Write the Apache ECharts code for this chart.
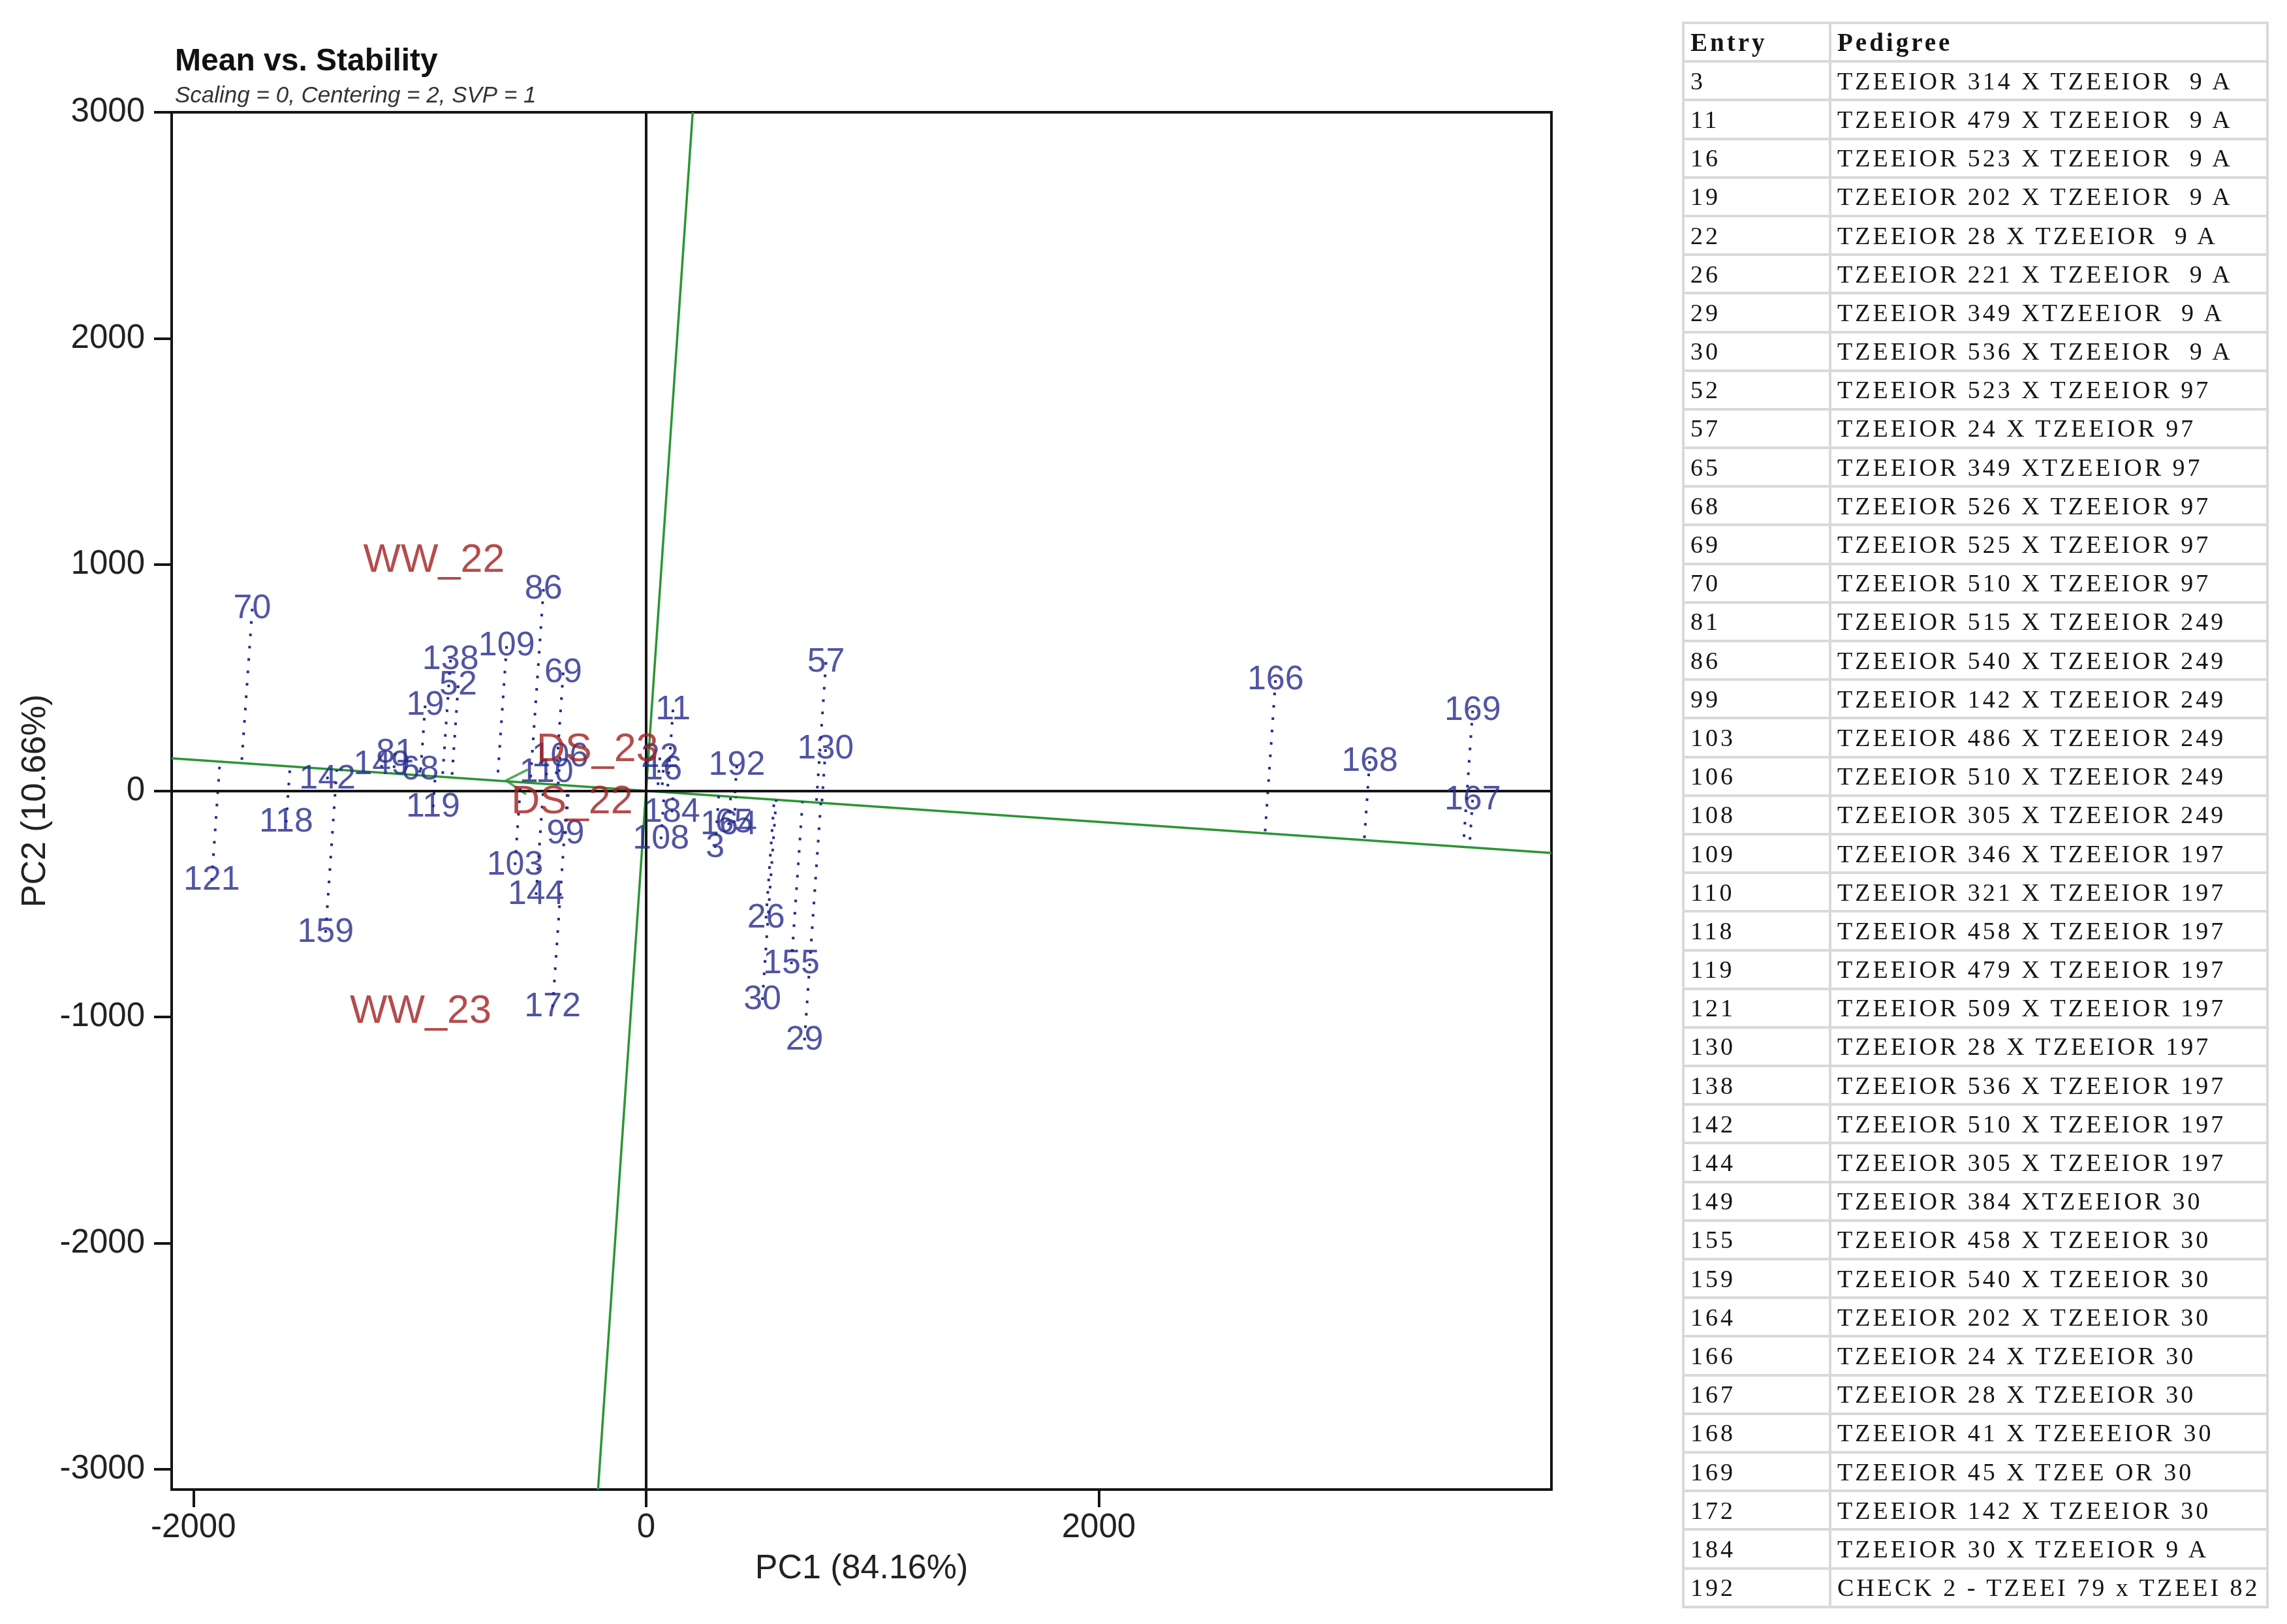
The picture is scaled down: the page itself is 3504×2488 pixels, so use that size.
<!DOCTYPE html>
<html>
<head>
<meta charset="utf-8">
<script src="https://cdn.jsdelivr.net/npm/echarts@6/dist/echarts.min.js"></script>
<style>
html, body { margin: 0; padding: 0; background: #fff; }
#page { position: relative; width: 3504px; height: 2488px; }
#chart { position: absolute; left: 0; top: 0; width: 3504px; height: 2488px; }
#pedigree {
    position: absolute; left: 2577px; top: 33px; width: 895px;
    border-collapse: collapse; table-layout: fixed;
    font-family: 'Liberation Serif', serif; font-size: 38px; color: #141414;
}
#pedigree tr { height: 59.2px; }
#pedigree td {
    border: 4px solid #d8d9dc; padding: 0 0 0 9px;
    white-space: pre; letter-spacing: 4px; overflow: hidden; vertical-align: middle;
}
#pedigree tr.head td { font-weight: bold; font-size: 39px; letter-spacing: 4px; }
</style>
</head>
<body>
<div id="page">
  <div id="chart"></div>
  <table id="pedigree"><colgroup><col style="width:225px"><col style="width:670px"></colgroup><tbody id="rows"></tbody></table>
</div>
<script>
// genotype scores (PC1, PC2)
var genoNames = ['3','11','16','19','22','26','29','30','52','57','65','68','69','70','81','86','99','103','106','108',
                 '109','110','118','119','121','130','138','142','144','149','155','159','164','166','167','168','169','172','184','192'];
var genoX = [305, 119, 76, -976, 61, 530, 700, 514, -830, 795, 389, -999, -366, -1740, -1109, -453, -356, -579, -380, 66,
             -616, -440, -1590, -941, -1919, 793, -864, -1408, -486, -1168, 642, -1416, 365, 2781, 3652, 3197, 3652, -413, 114, 401];
var genoY = [-252, 359, 92, 377, 147, -564, -1103, -924, 466, 569, -142, 92, 523, 805, 167, 892, -190, -328, 150, -214,
             640, 80, -140, -72, -397, 184, 579, 51, -460, 114, -766, -627, -151, 489, -40, 131, 355, -956, -95, 111];

// environment scores
var envNames = ['WW_22', 'WW_23', 'DS_22', 'DS_23'];
var envX = [-937, -996, -327, -215];
var envY = [1018, -978, -50, 180];

var xTicks = [-2000, 0, 2000];
var yTicks = [-3000, -2000, -1000, 0, 1000, 2000, 3000];

var entries = ['3','11','16','19','22','26','29','30','52','57','65','68','69','70','81','86','99','103','106','108',
               '109','110','118','119','121','130','138','142','144','149','155','159','164','166','167','168','169','172','184','192'];
var pedigrees = [
    'TZEEIOR 314 X TZEEIOR  9 A', 'TZEEIOR 479 X TZEEIOR  9 A', 'TZEEIOR 523 X TZEEIOR  9 A', 'TZEEIOR 202 X TZEEIOR  9 A',
    'TZEEIOR 28 X TZEEIOR  9 A', 'TZEEIOR 221 X TZEEIOR  9 A', 'TZEEIOR 349 XTZEEIOR  9 A', 'TZEEIOR 536 X TZEEIOR  9 A',
    'TZEEIOR 523 X TZEEIOR 97', 'TZEEIOR 24 X TZEEIOR 97', 'TZEEIOR 349 XTZEEIOR 97', 'TZEEIOR 526 X TZEEIOR 97',
    'TZEEIOR 525 X TZEEIOR 97', 'TZEEIOR 510 X TZEEIOR 97', 'TZEEIOR 515 X TZEEIOR 249', 'TZEEIOR 540 X TZEEIOR 249',
    'TZEEIOR 142 X TZEEIOR 249', 'TZEEIOR 486 X TZEEIOR 249', 'TZEEIOR 510 X TZEEIOR 249', 'TZEEIOR 305 X TZEEIOR 249',
    'TZEEIOR 346 X TZEEIOR 197', 'TZEEIOR 321 X TZEEIOR 197', 'TZEEIOR 458 X TZEEIOR 197', 'TZEEIOR 479 X TZEEIOR 197',
    'TZEEIOR 509 X TZEEIOR 197', 'TZEEIOR 28 X TZEEIOR 197', 'TZEEIOR 536 X TZEEIOR 197', 'TZEEIOR 510 X TZEEIOR 197',
    'TZEEIOR 305 X TZEEIOR 197', 'TZEEIOR 384 XTZEEIOR 30', 'TZEEIOR 458 X TZEEIOR 30', 'TZEEIOR 540 X TZEEIOR 30',
    'TZEEIOR 202 X TZEEIOR 30', 'TZEEIOR 24 X TZEEIOR 30', 'TZEEIOR 28 X TZEEIOR 30', 'TZEEIOR 41 X TZEEEIOR 30',
    'TZEEIOR 45 X TZEE OR 30', 'TZEEIOR 142 X TZEEIOR 30', 'TZEEIOR 30 X TZEEIOR 9 A', 'CHECK 2 - TZEEI 79 x TZEEI 82'
];

var xMin = -2096, xMax = 4000, yMin = -3089, yMax = 3000;
var blue = '#262a8c', red = '#a0201f', green = '#2a9634', ink = '#141414';
var font = 'Liberation Sans';

// table
var html = '<tr class="head"><td>Entry</td><td>Pedigree</td></tr>';
for (var i = 0; i < entries.length; i++) {
    html += '<tr><td>' + entries[i] + '</td><td>' + pedigrees[i] + '</td></tr>';
}
document.getElementById('rows').innerHTML = html;

// average environment and the AEC axes
var ax = 0, ay = 0;
for (var i = 0; i < envX.length; i++) { ax += envX[i]; ay += envY[i]; }
ax = ax / envX.length; ay = ay / envY.length;
var slope = ay / ax;
var abscissa = [[xMin, xMin * slope], [xMax, xMax * slope]];
var ordinate = [[-yMax * slope, yMax], [-yMin * slope, yMin]];
var arrowAngle = Math.atan2(ay, ax) * 180 / Math.PI - 180;

// projections of genotypes on the abscissa
var aa = ax * ax + ay * ay;
var projLines = [];
var genoPts = [];
for (var i = 0; i < genoNames.length; i++) {
    var t = (genoX[i] * ax + genoY[i] * ay) / aa;
    projLines.push({coords: [[genoX[i], genoY[i]], [t * ax, t * ay]]});
    genoPts.push({name: genoNames[i], value: [genoX[i], genoY[i]]});
}
var envPts = [];
for (var i = 0; i < envNames.length; i++) {
    envPts.push({name: envNames[i], value: [envX[i], envY[i]]});
}

var plain = function (v) { return String(v); };

var chart = echarts.init(document.getElementById('chart'), null, {renderer: 'canvas'});
var option = {
    animation: false,
    backgroundColor: '#fff',
    title: [
        {text: 'Mean vs. Stability', left: 263, top: 66,
         textStyle: {fontSize: 48, fontWeight: 'bold', color: '#111', fontFamily: font}},
        {text: 'Scaling = 0, Centering = 2, SVP = 1', left: 263, top: 125,
         textStyle: {fontSize: 35, fontWeight: 'normal', fontStyle: 'italic', color: '#333', fontFamily: font}}
    ],
    grid: {left: 263, top: 172, width: 2114, height: 2110, show: true,
           borderColor: ink, borderWidth: 4, backgroundColor: 'transparent'},
    xAxis: {
        type: 'value', min: xMin, max: xMax,
        name: 'PC1 (84.16%)', nameLocation: 'middle', nameGap: 96,
        nameTextStyle: {fontSize: 52, color: '#222', fontFamily: font},
        splitLine: {show: false},
        axisLine: {show: false, onZero: false},
        axisTick: {show: true, length: 27, lineStyle: {color: ink, width: 4}, customValues: xTicks},
        axisLabel: {fontSize: 51, color: '#222', fontFamily: font, margin: 33, customValues: xTicks, formatter: plain}
    },
    yAxis: {
        type: 'value', min: yMin, max: yMax,
        name: 'PC2 (10.66%)', nameLocation: 'middle', nameGap: 180,
        nameTextStyle: {fontSize: 52, color: '#222', fontFamily: font},
        splitLine: {show: false},
        axisLine: {show: false, onZero: false},
        axisTick: {show: true, length: 27, lineStyle: {color: ink, width: 4}, customValues: yTicks},
        axisLabel: {fontSize: 51, color: '#222', fontFamily: font, margin: 41, customValues: yTicks, formatter: plain}
    },
    series: [
        {
            type: 'line', data: [], silent: true, z: 1,
            markLine: {
                silent: true, symbol: ['none', 'none'], label: {show: false},
                lineStyle: {color: ink, width: 4, type: 'solid'},
                data: [{xAxis: 0}, {yAxis: 0}]
            }
        },
        {
            type: 'line', data: abscissa, showSymbol: false, silent: true, z: 3,
            lineStyle: {color: green, width: 3.5}
        },
        {
            type: 'line', data: ordinate, showSymbol: false, silent: true, z: 3,
            lineStyle: {color: green, width: 3.5}
        },
        {
            type: 'scatter', data: [[ax, ay]], silent: true, z: 3,
            symbol: 'path://M20,0 L0,10 L20,20', symbolSize: [32, 38],
            symbolOffset: [16, 0], symbolRotate: arrowAngle,
            itemStyle: {color: 'rgba(0,0,0,0)', borderColor: green, borderWidth: 3.5}
        },
        {
            type: 'lines', coordinateSystem: 'cartesian2d', data: projLines, silent: true, z: 4,
            lineStyle: {color: blue, width: 4, type: [4, 15], opacity: 1, cap: 'butt'}
        },
        {
            type: 'scatter', data: genoPts, silent: true, z: 5,
            symbolSize: 1, itemStyle: {color: 'rgba(0,0,0,0)'},
            label: {show: true, position: 'inside', formatter: '{b}',
                    fontSize: 52, color: blue, fontFamily: font}
        },
        {
            type: 'scatter', data: envPts, silent: true, z: 6,
            symbolSize: 1, itemStyle: {color: 'rgba(0,0,0,0)'},
            label: {show: true, position: 'inside', formatter: '{b}',
                    fontSize: 61, color: red, fontFamily: font}
        }
    ]
};
chart.setOption(option);
</script>
</body>
</html>
